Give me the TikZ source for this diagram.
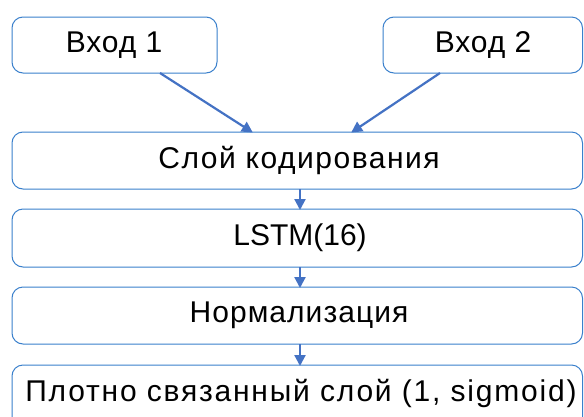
\documentclass[tikz,border=0pt]{standalone}
\usepackage{fontspec}
\setmainfont{Liberation Sans}[LetterSpace=3]
\usetikzlibrary{arrows.meta}
\definecolor{boxblue}{HTML}{3A80CC}
\definecolor{arrblue}{HTML}{4472C4}
\tikzset{
  blk/.style={draw=boxblue, line width=1pt, rounded corners=11pt, fill=white},
  lbl/.style={font=\fontsize{30}{32}\selectfont, text=black, inner sep=0pt},
  spc/.style={font=\fontsize{30}{32}\selectfont\addfontfeature{LetterSpace=#1}},
  conn/.style={draw=arrblue, line width=2.2pt, -{Triangle[length=11pt,width=11pt]}, shorten >=-1pt}
}
\begin{document}
\begin{tikzpicture}[x=1pt,y=-1pt]
\useasboundingbox (0,0) rectangle (584,416);
\clip (0,0) rectangle (584,416);
\fill[white] (0,0) rectangle (584,416);
% boxes
\draw[blk] (12,17) rectangle (217,73);
\draw[blk] (383,17) rectangle (582.5,73);
\draw[blk] (12,132) rectangle (582.5,189);
\draw[blk] (12,209) rectangle (582.5,267);
\draw[blk] (12,287) rectangle (582.5,344);
\draw[blk] (12,365) rectangle (582.5,430);
% labels
\node[lbl] (in1) at (114,45) {Вход 1};
\node[lbl] (in2) at (483,45) {Вход 2};
\node[lbl, spc=5] (enc) at (299,160) {Слой кодирования};
\node[lbl, spc=0] (lstm) at (300,238) {LSTM(16)};
\node[lbl, spc=3.5] (norm) at (299,315) {Нормализация};
\node[lbl, spc=6] (dense) at (301,393) {Плотно связанный слой (1, sigmoid)};
% anchor coordinates
\coordinate (in1b) at (160,73);
\coordinate (in2b) at (440,73);
\coordinate (enct1) at (252,132);
\coordinate (enct2) at (352,132);
\coordinate (encb) at (300,189);
\coordinate (lstmt) at (300,209);
\coordinate (lstmb) at (300,267);
\coordinate (normt) at (300,287);
\coordinate (normb) at (300,344);
\coordinate (denset) at (300,365);
% connectors
\draw[conn] (in1b) -- (enct1);
\draw[conn] (in2b) -- (enct2);
\draw[conn] (encb) -- (lstmt);
\draw[conn] (lstmb) -- (normt);
\draw[conn] (normb) -- (denset);
\end{tikzpicture}
\end{document}
